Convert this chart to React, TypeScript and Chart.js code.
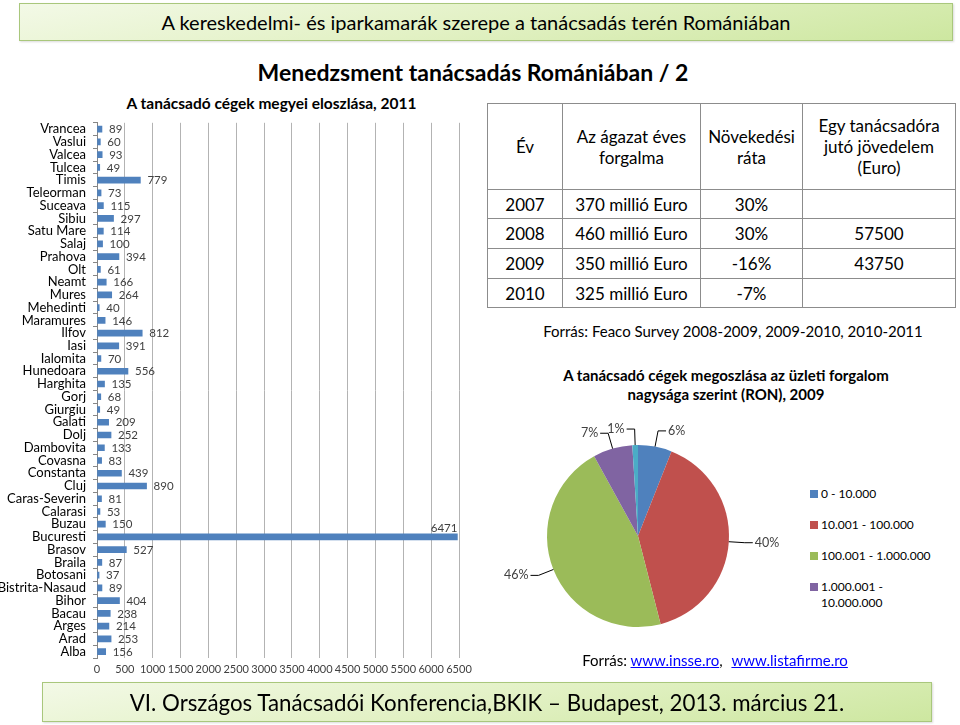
import React, { useEffect, useRef } from "react";
import { Chart, registerables } from "chart.js";

Chart.register(...registerables);

// ---------- Data ----------
const COUNTIES = [
  "Vrancea", "Vaslui", "Valcea", "Tulcea", "Timis", "Teleorman", "Suceava", "Sibiu",
  "Satu Mare", "Salaj", "Prahova", "Olt", "Neamt", "Mures", "Mehedinti", "Maramures",
  "Ilfov", "Iasi", "Ialomita", "Hunedoara", "Harghita", "Gorj", "Giurgiu", "Galati",
  "Dolj", "Dambovita", "Covasna", "Constanta", "Cluj", "Caras-Severin", "Calarasi",
  "Buzau", "Bucuresti", "Brasov", "Braila", "Botosani", "Bistrita-Nasaud", "Bihor",
  "Bacau", "Arges", "Arad", "Alba",
];
const FIRM_COUNTS = [
  89, 60, 93, 49, 779, 73, 115, 297,
  114, 100, 394, 61, 166, 264, 40, 146,
  812, 391, 70, 556, 135, 68, 49, 209,
  252, 133, 83, 439, 890, 81, 53,
  150, 6471, 527, 87, 37, 89, 404,
  238, 214, 253, 156,
];
const X_MIN = 0;
const X_MAX = 6500;
const X_STEP = 500;

const TABLE_HEADERS = ["Év", "Az ágazat éves\nforgalma", "Növekedési\nráta", "Egy tanácsadóra\njutó jövedelem\n(Euro)"];
const YEARS = ["2007", "2008", "2009", "2010"];
const TURNOVER = ["370 millió Euro", "460 millió Euro", "350 millió Euro", "325 millió Euro"];
const GROWTH = ["30%", "30%", "-16%", "-7%"];
const INCOME = ["", "57500", "43750", ""];

const PIE_LABELS = ["0 - 10.000", "10.001 - 100.000", "100.001 - 1.000.000", "1.000.001 - 10.000.000", "10.000.001 -"];
const PIE_SHARES = [6, 40, 46, 7, 1];
const PIE_LEGEND_COUNT = 4;

// ---------- Styles ----------
const FONT = "Lato, 'Open Sans', sans-serif";
const BAR_COLOR = "#4f81bd";
const PIE_COLORS = ["#4f81bd", "#c0504d", "#9bbb59", "#8064a2", "#4bacc6"];

const barLabelPlugin = {
  id: "barLabels",
  afterDatasetsDraw(chart: any) {
    const ctx = chart.ctx;
    const meta = chart.getDatasetMeta(0);
    const area = chart.chartArea;
    ctx.save();
    ctx.font = `11.5px ${FONT}`;
    ctx.fillStyle = "#404040";
    ctx.textBaseline = "middle";
    ctx.textAlign = "left";
    meta.data.forEach((bar: any, i: number) => {
      const text = String(FIRM_COUNTS[i]);
      const w = ctx.measureText(text).width;
      let x = bar.x + 7;
      let y = bar.y + 0.5;
      if (x + w > area.right) {
        x = bar.x - w;
        y = bar.y - 9;
      }
      ctx.fillText(text, x, y);
    });
    ctx.restore();
  },
};

const pieLabelPlugin = {
  id: "pieLabels",
  afterDraw(chart: any) {
    const ctx = chart.ctx;
    const meta = chart.getDatasetMeta(0);
    ctx.save();
    ctx.font = `12.5px ${FONT}`;
    ctx.fillStyle = "#404040";
    ctx.strokeStyle = "#000";
    ctx.lineWidth = 1;
    ctx.textBaseline = "middle";
    meta.data.forEach((arc: any, i: number) => {
      const p = arc.getProps(["x", "y", "startAngle", "endAngle", "outerRadius"], true);
      const mid = (p.startAngle + p.endAngle) / 2;
      const c = Math.cos(mid);
      const s = Math.sin(mid);
      const r = p.outerRadius;
      const x1 = p.x + c * r, y1 = p.y + s * r;
      const x2 = p.x + c * (r + 16), y2 = p.y + s * (r + 16);
      const dir = c >= 0 ? 1 : -1;
      const x3 = x2 + dir * 8;
      ctx.beginPath();
      ctx.moveTo(x1, y1);
      ctx.lineTo(x2, y2);
      ctx.lineTo(x3, y2);
      ctx.stroke();
      ctx.textAlign = dir > 0 ? "left" : "right";
      ctx.fillText(`${PIE_SHARES[i]}%`, x3 + dir * 2, y2);
    });
    ctx.restore();
  },
};

function BarChart() {
  const ref = useRef<HTMLCanvasElement>(null);
  useEffect(() => {
    const chart = new Chart(ref.current!, {
      type: "bar",
      data: {
        labels: COUNTIES,
        datasets: [{ data: FIRM_COUNTS, backgroundColor: BAR_COLOR, barThickness: 6 }],
      },
      options: {
        indexAxis: "y",
        responsive: false,
        animation: false,
        layout: { padding: { top: 3.5, right: 21, bottom: 5, left: 0 } },
        plugins: { legend: { display: false }, tooltip: { enabled: false }, title: { display: false } },
        scales: {
          x: {
            type: "linear",
            min: X_MIN,
            max: X_MAX,
            ticks: {
              stepSize: X_STEP,
              font: { family: FONT, size: 11 },
              color: "#404040",
              padding: 5,
              maxRotation: 0,
              minRotation: 0,
              autoSkip: false,
              callback: (v: any) => String(v),
            },
            grid: { color: "#b3b3b3", drawTicks: false },
            border: { display: false },
            afterFit: (s: any) => { s.height = 20; },
          },
          y: {
            type: "category",
            grid: { drawOnChartArea: false, tickLength: 4, color: "#868686", offset: true },
            border: { display: true, color: "#868686" },
            ticks: { font: { family: FONT, size: 13 }, color: "#000", padding: 7, autoSkip: false },
            afterFit: (s: any) => { s.width = 97; },
          },
        },
      },
      plugins: [barLabelPlugin],
    } as any);
    return () => chart.destroy();
  }, []);
  return <canvas ref={ref} width={480} height={575} style={{ position: "absolute", left: 0, top: 108 }} />;
}

function PieChart() {
  const ref = useRef<HTMLCanvasElement>(null);
  useEffect(() => {
    const chart = new Chart(ref.current!, {
      type: "pie",
      data: {
        labels: PIE_LABELS,
        datasets: [{ data: PIE_SHARES, backgroundColor: PIE_COLORS, borderWidth: 0 }],
      },
      options: {
        responsive: false,
        animation: false,
        layout: { padding: { left: 47, top: 35, right: 71, bottom: 43 } },
        plugins: { legend: { display: false }, tooltip: { enabled: false } },
      },
      plugins: [pieLabelPlugin],
    } as any);
    return () => chart.destroy();
  }, []);
  return <canvas ref={ref} width={300} height={260} style={{ position: "absolute", left: 500, top: 410 }} />;
}

const boxStyle: React.CSSProperties = {
  position: "absolute",
  boxSizing: "border-box",
  border: "1px solid #a9c77c",
  background: "linear-gradient(170deg, #f3f9e7 0%, #e2f1c4 50%, #cde7a0 100%)",
  display: "flex",
  alignItems: "center",
  justifyContent: "center",
  color: "#000",
  boxShadow: "1px 1px 2px rgba(0,0,0,0.15)",
};

const cellBorder = "1px solid #8c8c8c";

export default function App() {
  const colWidths = [75, 138, 102, 153];
  const rowHeights = [29, 30, 30, 29];
  return (
    <div style={{ position: "fixed", left: 0, top: 0, width: 960, height: 725, background: "#fff", overflow: "hidden", fontFamily: FONT }}>
      <div style={{ ...boxStyle, left: 19, top: 3, width: 934, height: 38, fontSize: 20, paddingRight: 20 }}>
        A kereskedelmi- és iparkamarák szerepe a tanácsadás terén Romániában
      </div>
      <div style={{ position: "absolute", left: 0, width: 946, top: 55, textAlign: "center", fontSize: 23, fontWeight: 700, lineHeight: "34px" }}>
        Menedzsment tanácsadás Romániában / 2
      </div>
      <div style={{ position: "absolute", left: 100, width: 343, top: 93, textAlign: "center", fontSize: 15.5, fontWeight: 700, lineHeight: "20px" }}>
        A tanácsadó cégek megyei eloszlása, 2011
      </div>
      <BarChart />

      <table style={{ position: "absolute", left: 487, top: 103, borderCollapse: "collapse", fontSize: 17, tableLayout: "fixed", color: "#000" }}>
        <colgroup>
          {colWidths.map((w, i) => <col key={i} style={{ width: w }} />)}
        </colgroup>
        <tbody>
          <tr style={{ height: 86 }}>
            {TABLE_HEADERS.map((h, i) => (
              <td key={i} style={{ border: cellBorder, textAlign: "center", whiteSpace: "pre-line", lineHeight: "21px", padding: 0 }}>{h}</td>
            ))}
          </tr>
          {YEARS.map((y, r) => (
            <tr key={y} style={{ height: rowHeights[r] }}>
              {[y, TURNOVER[r], GROWTH[r], INCOME[r]].map((v, c) => (
                <td key={c} style={{ border: cellBorder, textAlign: "center", padding: 0 }}>{v}</td>
              ))}
            </tr>
          ))}
        </tbody>
      </table>

      <div style={{ position: "absolute", left: 480, width: 506, top: 321, textAlign: "center", fontSize: 15, lineHeight: "20px" }}>
        Forrás: Feaco Survey 2008-2009, 2009-2010, 2010-2011
      </div>

      <div style={{ position: "absolute", left: 525, width: 402, top: 366, textAlign: "center", fontSize: 15, fontWeight: 700, lineHeight: "19px" }}>
        A tanácsadó cégek megoszlása az üzleti forgalom<br />nagysága szerint (RON), 2009
      </div>
      <PieChart />
      <div style={{ position: "absolute", left: 810, top: 486, width: 134, fontSize: 12, lineHeight: "16px" }}>
        {PIE_LABELS.slice(0, PIE_LEGEND_COUNT).map((l, i) => (
          <div key={i} style={{ display: "flex", alignItems: "flex-start", marginBottom: 15 }}>
            <span style={{ display: "inline-block", width: 8, height: 8, background: PIE_COLORS[i], marginTop: 4, marginRight: 3, flex: "none" }} />
            <span>{l}</span>
          </div>
        ))}
      </div>

      <div style={{ position: "absolute", left: 520, width: 390, top: 650, textAlign: "center", fontSize: 15, lineHeight: "20px" }}>
        Forrás: <span style={{ color: "#0000ff", textDecoration: "underline" }}>www.insse.ro</span>,{"  "}
        <span style={{ color: "#0000ff", textDecoration: "underline", marginLeft: 5 }}>www.listafirme.ro</span>
      </div>

      <div style={{ ...boxStyle, left: 42, top: 682, width: 890, height: 40, fontSize: 22.3 }}>
        VI. Országos Tanácsadói Konferencia,BKIK – Budapest, 2013. március 21.
      </div>
    </div>
  );
}
